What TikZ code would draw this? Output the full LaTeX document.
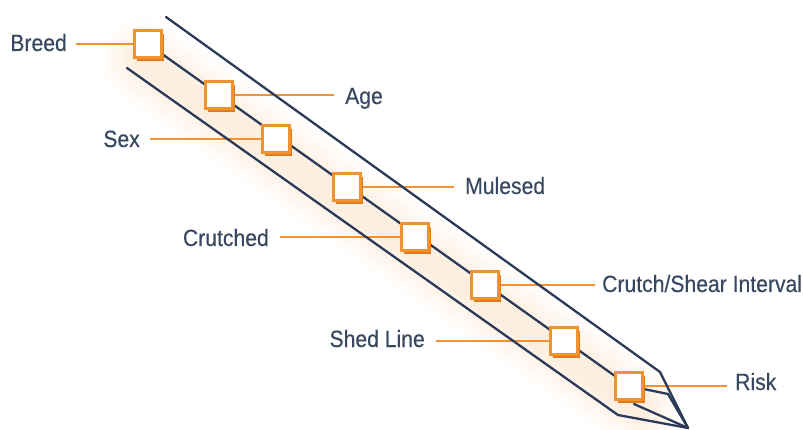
\documentclass[tikz,border=0pt]{standalone}
\usepackage{fontspec}
\setmainfont[FakeStretch=0.9,FakeBold=0.35]{Liberation Sans}
\usetikzlibrary{shadows}
\definecolor{boxorange}{HTML}{F0922E}
\definecolor{boxshade}{HTML}{E07A1C}
\definecolor{pencil}{HTML}{2A3A58}
\definecolor{labtext}{HTML}{384860}
\definecolor{glow}{HTML}{F5A04A}
\tikzset{
  box/.style={draw=boxorange, line width=2.7pt, fill=white, minimum size=27pt, inner sep=0pt,
    drop shadow={fill=boxshade, opacity=1, shadow xshift=2.5pt, shadow yshift=-3.5pt}},
  lab/.style={text=labtext, inner sep=0pt, font=\fontsize{23.5}{28}\selectfont},
  leader/.style={draw=boxorange, line width=2.5pt},
  pline/.style={draw=pencil, line width=2.3pt, line join=round, line cap=round},
  glowline/.style={draw=glow, line cap=round, opacity=0.03}
}
\begin{document}
\begin{tikzpicture}[x=1pt,y=-1pt]
\useasboundingbox (0,0) rectangle (803,430);
% soft glow
\foreach \w in {80,66,54,44,34,24} {
  \draw[glowline, line width=\w pt] (142,60) -- (640,408);
}
% labels
\node[lab, anchor=base east] (l1) at (67,51) {Breed};
\node[lab, anchor=base west] (l2) at (345,104) {Age};
\node[lab, anchor=base east] (l3) at (140,147) {Sex};
\node[lab, anchor=base west] (l4) at (465,194) {Mulesed};
\node[lab, anchor=base east] (l5) at (269,246) {Crutched};
\node[lab, anchor=base west] (l6) at (602,292) {Crutch/Shear Interval};
\node[lab, anchor=base east] (l7) at (425,347) {Shed Line};
\node[lab, anchor=base west] (l8) at (735,390) {Risk};
% box positions
\coordinate (p1) at (148,44);
\coordinate (p2) at (219,95);
\coordinate (p3) at (276,139);
\coordinate (p4) at (347,187);
\coordinate (p5) at (415,237);
\coordinate (p6) at (485,285);
\coordinate (p7) at (564,341);
\coordinate (p8) at (629,386);
% leaders
\draw[leader] ([xshift=9pt]l1.east |- p1) -- (p1);
\draw[leader] (p2) -- ([xshift=-11pt]l2.west |- p2);
\draw[leader] ([xshift=10pt]l3.east |- p3) -- (p3);
\draw[leader] (p4) -- ([xshift=-11pt]l4.west |- p4);
\draw[leader] ([xshift=11pt]l5.east |- p5) -- (p5);
\draw[leader] (p6) -- ([xshift=-7pt]l6.west |- p6);
\draw[leader] ([xshift=11pt]l7.east |- p7) -- (p7);
\draw[leader] (p8) -- ([xshift=-8pt]l8.west |- p8);
% pencil
\coordinate (tip) at (688,428);
\coordinate (u0) at (166,17);
\coordinate (u1) at (660,372);
\coordinate (d0) at (127,68);
\coordinate (d1) at (618,415);
\coordinate (m1) at (668,394);
\coordinate (k0) at (634,404);
\draw[pline] (u0) -- (u1) -- (tip);
\draw[pline] (d0) -- (d1) -- (tip);
\draw[pline] (p1) -- (p8) -- (m1) -- (tip);
\draw[pline] (k0) -- (tip);
% boxes
\foreach \i in {1,...,8} {
  \node[box] (b\i) at (p\i) {};
}
\end{tikzpicture}
\end{document}
